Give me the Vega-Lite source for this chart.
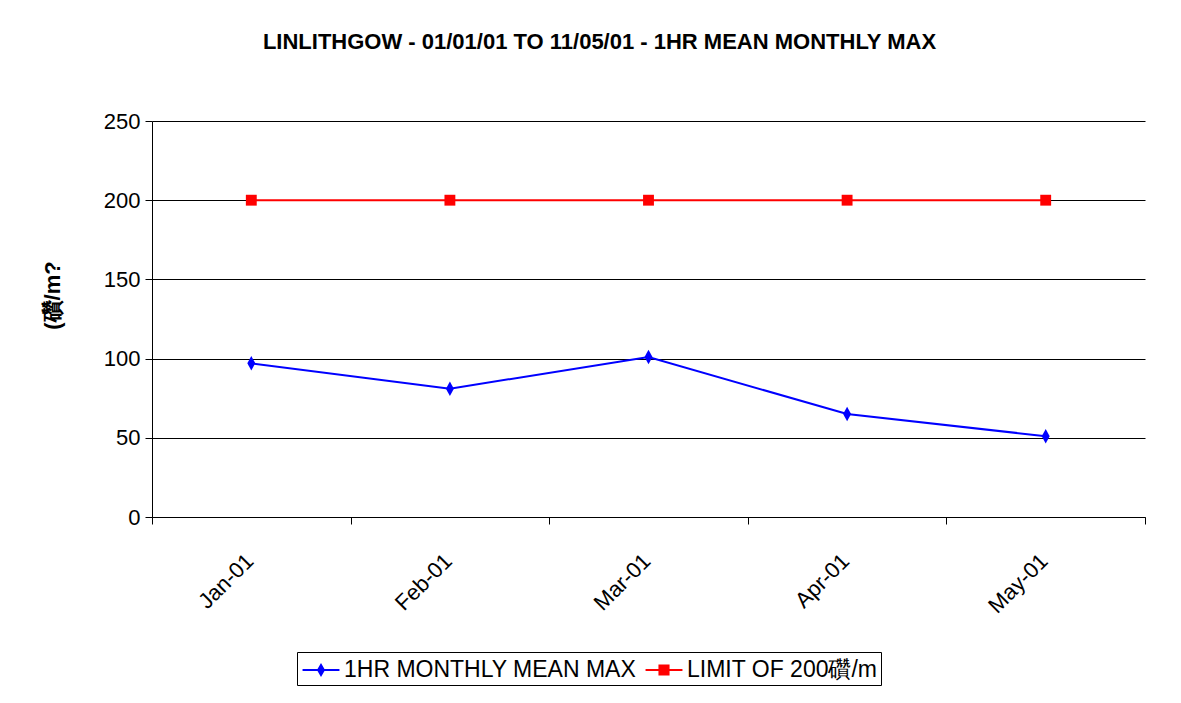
{
  "$schema": "https://vega.github.io/schema/vega-lite/v6.json",
  "width": 993,
  "height": 396,
  "autosize": {"type": "none"},
  "padding": {"left": 152, "top": 121, "right": 36, "bottom": 186},
  "background": "white",
  "title": {
    "text": "LINLITHGOW - 01/01/01 TO 11/05/01 - 1HR MEAN MONTHLY MAX",
    "font": "Liberation Sans",
    "fontSize": 22,
    "fontWeight": "bold",
    "color": "black",
    "anchor": "middle",
    "frame": "group",
    "baseline": "alphabetic",
    "offset": 39,
    "dx": -49
  },
  "data": {
    "values": [
      {"month": "Jan-01", "series": "1HR MONTHLY MEAN MAX", "value": 97},
      {"month": "Feb-01", "series": "1HR MONTHLY MEAN MAX", "value": 81},
      {"month": "Mar-01", "series": "1HR MONTHLY MEAN MAX", "value": 101},
      {"month": "Apr-01", "series": "1HR MONTHLY MEAN MAX", "value": 65},
      {"month": "May-01", "series": "1HR MONTHLY MEAN MAX", "value": 51},
      {"month": "Jan-01", "series": "LIMIT OF 200礸/m", "value": 200},
      {"month": "Feb-01", "series": "LIMIT OF 200礸/m", "value": 200},
      {"month": "Mar-01", "series": "LIMIT OF 200礸/m", "value": 200},
      {"month": "Apr-01", "series": "LIMIT OF 200礸/m", "value": 200},
      {"month": "May-01", "series": "LIMIT OF 200礸/m", "value": 200}
    ]
  },
  "encoding": {
    "x": {
      "field": "month",
      "type": "ordinal",
      "sort": ["Jan-01", "Feb-01", "Mar-01", "Apr-01", "May-01"],
      "scale": {"type": "band", "paddingInner": 0, "paddingOuter": 0},
      "axis": {
        "title": null,
        "tickBand": "extent",
        "grid": false,
        "labelAngle": -45,
        "labelFont": "Liberation Sans",
        "labelFontSize": 22,
        "labelColor": "black",
        "labelPadding": 26,
        "labelOffset": -9,
        "tickSize": 7,
        "tickColor": "black",
        "domainColor": "black"
      }
    },
    "y": {
      "field": "value",
      "type": "quantitative",
      "scale": {"domain": [0, 250]},
      "axis": {
        "title": "(礸/m?",
        "titleFont": "Liberation Sans",
        "titleFontSize": 22,
        "titleFontWeight": "bold",
        "titleColor": "black",
        "titleAngle": -90,
        "titleAlign": "center",
        "titleBaseline": "bottom",
        "titleX": -88,
        "titleY": 174,
        "values": [0, 50, 100, 150, 200, 250],
        "grid": true,
        "gridColor": "black",
        "gridOpacity": 1,
        "labelFont": "Liberation Sans",
        "labelFontSize": 22,
        "labelColor": "black",
        "labelPadding": 5,
        "tickSize": 7,
        "tickColor": "black",
        "domainColor": "black"
      }
    },
    "color": {
      "field": "series",
      "type": "nominal",
      "scale": {"domain": ["1HR MONTHLY MEAN MAX", "LIMIT OF 200礸/m"], "range": ["#0000FF", "#FF0000"]},
      "legend": {
        "title": null,
        "orient": "none",
        "legendX": 145,
        "legendY": 531,
        "direction": "horizontal",
        "strokeColor": "black",
        "fillColor": "white",
        "padding": 3,
        "columnPadding": 6,
        "labelFont": "Liberation Sans",
        "labelFontSize": 23,
        "labelColor": "black",
        "labelLimit": 400,
        "labelOffset": 8,
        "symbolSize": 900,
        "symbolOffset": 6,
        "symbolStrokeWidth": 0,
        "encode": {
          "symbols": {
            "update": {
              "shape": {"signal": "datum.value === '1HR MONTHLY MEAN MAX' ? 'M-1.23,-0.067H1.23V0.067H-1.23Z M0,-0.47L0.27,0L0,0.47L-0.27,0Z' : 'M-1.23,-0.067H1.23V0.067H-1.23Z M-0.37,-0.37H0.37V0.37H-0.37Z'"},
              "fill": {"signal": "scale('color', datum.value)"},
              "fillOpacity": {"value": 1},
              "strokeWidth": {"value": 0},
              "opacity": {"value": 1}
            }
          }
        }
      }
    }
  },
  "layer": [
    {"mark": {"type": "line", "strokeWidth": 2}},
    {
      "transform": [{"filter": "datum.series === '1HR MONTHLY MEAN MAX'"}],
      "mark": {"type": "point", "filled": true, "size": 210, "opacity": 1, "shape": "M0,-1L0.55,0L0,1L-0.55,0Z"}
    },
    {
      "transform": [{"filter": "datum.series !== '1HR MONTHLY MEAN MAX'"}],
      "mark": {"type": "point", "filled": true, "size": 210, "opacity": 1, "shape": "M-0.75,-0.75H0.75V0.75H-0.75Z"}
    }
  ],
  "config": {
    "view": {"stroke": null},
    "font": "Liberation Sans"
  }
}
